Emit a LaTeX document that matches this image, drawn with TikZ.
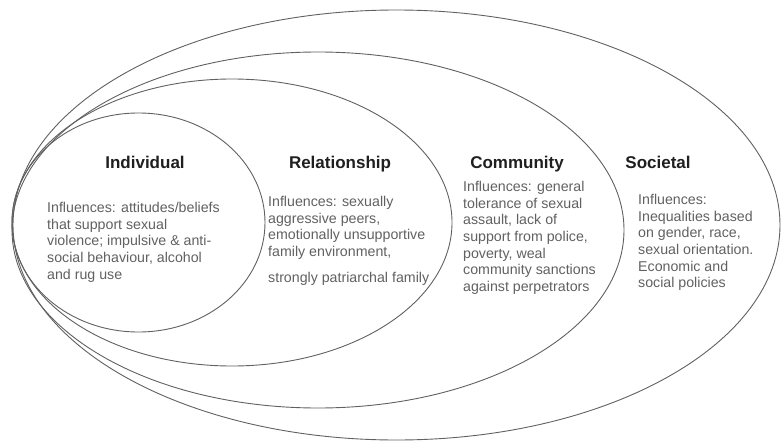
\documentclass[tikz,border=0pt]{standalone}
\usepackage{fontspec}
\setmainfont{Liberation Sans}
\begin{document}
\begin{tikzpicture}[x=1pt,y=-1pt,
  ring/.style={draw=black!62,line width=0.9pt},
  heading/.style={font={\fontsize{17}{20}\selectfont\bfseries},text=black!88,inner sep=0pt,anchor=base},
  body/.style={font={\fontsize{14.2}{16.7}\selectfont},text=black!62,inner sep=0pt,anchor=north west,align=left}]
\useasboundingbox[fill=white] (0,0) rectangle (783,441);
\draw[ring] (396.5,225) ellipse [x radius=383.5pt, y radius=215pt];
\draw[ring] (318,230) ellipse [x radius=306pt, y radius=178pt];
\draw[ring] (232,222.5) ellipse [x radius=220pt, y radius=143.5pt];
\draw[ring] (138.5,222.5) ellipse [x radius=126.5pt, y radius=109.5pt];

\node[heading] (tind) at (145,168) {Individual};
\node[heading] (trel) at (340,168) {Relationship};
\node[heading] (tcom) at (517,168) {Community};
\node[heading] (tsoc) at (658,168) {Societal};

\node[body] (bind) at (47,202) {Influences: attitudes/beliefs\\that support sexual\\violence; impulsive \& anti-\\social behaviour, alcohol\\and rug use};
\node[body] (brel) at (268,196) {Influences: sexually\\aggressive peers,\\emotionally unsupportive\\family environment,\\[9pt]strongly patriarchal family};
\node[body] (bcom) at (463,181) {Influences: general\\tolerance of sexual\\assault, lack of\\support from police,\\poverty, weal\\community sanctions\\against perpetrators};
\node[body] (bsoc) at (638,194) {Influences:\\Inequalities based\\on gender, race,\\sexual orientation.\\Economic and\\social policies};
\end{tikzpicture}
\end{document}
